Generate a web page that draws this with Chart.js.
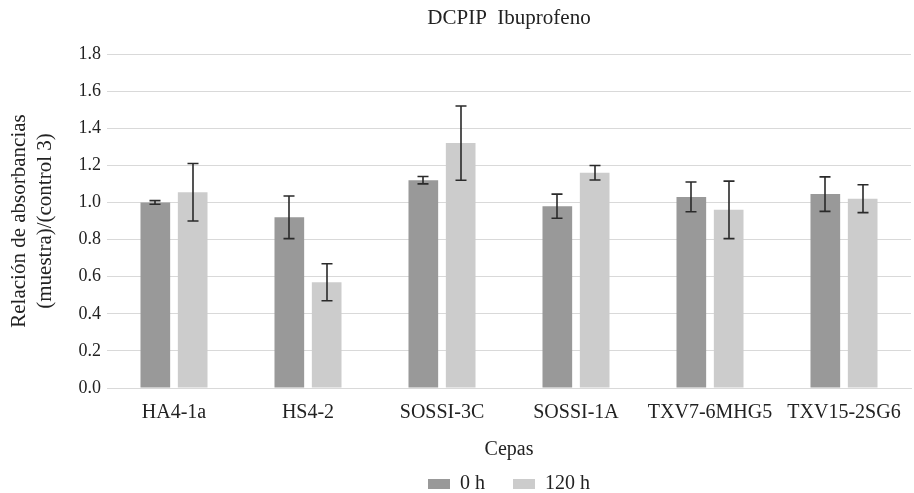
<!DOCTYPE html>
<html>
<head>
<meta charset="utf-8">
<script src="https://cdn.jsdelivr.net/npm/chart.js@4.4.1/dist/chart.umd.min.js"></script>
<style>
  html, body { margin: 0; padding: 0; background: #ffffff; }
  #wrap { width: 914px; height: 493px; position: relative; }
</style>
</head>
<body>
<div id="wrap"><canvas id="c" width="914" height="493"></canvas></div>
<script>
const categories = ['HA4-1a', 'HS4-2', 'SOSSI-3C', 'SOSSI-1A', 'TXV7-6MHG5', 'TXV15-2SG6'];
const seriesNames = ['0 h', '120 h'];
const values0h = [1.00, 0.92, 1.12, 0.98, 1.03, 1.045];
const errors0h = [0.01, 0.115, 0.02, 0.065, 0.08, 0.093];
const values120h = [1.055, 0.57, 1.32, 1.16, 0.96, 1.02];
const errors120h = [0.155, 0.10, 0.20, 0.039, 0.155, 0.075];
const yTicks = [0, 0.2, 0.4, 0.6, 0.8, 1.0, 1.2, 1.4, 1.6, 1.8];

const FONT = "'Liberation Serif', 'Times New Roman', serif";
const TEXT = '#222222';

const errorBarPlugin = {
  id: 'errorBars',
  afterDatasetsDraw(chart) {
    const ctx = chart.ctx;
    const y = chart.scales.y;
    ctx.save();
    ctx.strokeStyle = '#2a2a2a';
    ctx.lineWidth = 1.6;
    chart.data.datasets.forEach((ds, di) => {
      const meta = chart.getDatasetMeta(di);
      meta.data.forEach((bar, i) => {
        const v = ds.data[i], e = ds.errors[i];
        const x = Math.round(bar.x);
        const yt = y.getPixelForValue(v + e);
        const yb = y.getPixelForValue(v - e);
        const cap = 5.5;
        ctx.beginPath();
        ctx.moveTo(x, yt); ctx.lineTo(x, yb);
        ctx.moveTo(x - cap, yt); ctx.lineTo(x + cap, yt);
        ctx.moveTo(x - cap, yb); ctx.lineTo(x + cap, yb);
        ctx.stroke();
      });
    });
    ctx.restore();
  }
};

new Chart(document.getElementById('c'), {
  type: 'bar',
  data: {
    labels: categories,
    datasets: [
      { label: seriesNames[0], data: values0h, errors: errors0h, backgroundColor: '#999999', borderWidth: 0 },
      { label: seriesNames[1], data: values120h, errors: errors120h, backgroundColor: '#cccccc', borderWidth: 0 }
    ]
  },
  options: {
    responsive: false,
    animation: false,
    devicePixelRatio: 1,
    categoryPercentage: 0.5575,
    barPercentage: 0.794,
    layout: { padding: { left: 0, right: 3, top: 0, bottom: -11 } },
    plugins: {
      title: {
        display: true,
        text: 'DCPIP  Ibuprofeno',
        fullSize: false,
        color: TEXT,
        font: { family: FONT, size: 21, weight: 'normal', lineHeight: 1.2 },
        padding: { top: 5.4, bottom: 23.4 }
      },
      legend: {
        position: 'bottom',
        fullSize: false,
        labels: {
          color: TEXT,
          font: { family: FONT, size: 20 },
          boxWidth: 22,
          boxHeight: 10,
          padding: 28
        }
      },
      tooltip: { enabled: false }
    },
    scales: {
      x: {
        afterFit(scale) { scale.height = 58; },
        grid: { display: false, drawTicks: false },
        border: { display: true, color: '#d9d9d9', width: 1 },
        ticks: { color: TEXT, font: { family: FONT, size: 20 }, padding: 13, maxRotation: 0, autoSkip: false },
        title: { display: true, text: 'Cepas', color: TEXT, font: { family: FONT, size: 20, lineHeight: 1.2 }, padding: { top: 0, bottom: -16 } }
      },
      y: {
        min: 0,
        max: 1.8,
        afterBuildTicks(scale) { scale.ticks = yTicks.map(v => ({ value: v })); },
        afterFit(scale) { scale.width = 107; },
        grid: { color: '#d9d9d9', lineWidth: 1, drawTicks: false },
        border: { display: false },
        ticks: {
          color: TEXT,
          font: { family: FONT, size: 18 },
          padding: 6,
          callback: v => Number(v).toFixed(1)
        },
        title: {
          display: true,
          text: ['Relación de absorbancias', '(muestra)/(control 3)'],
          color: TEXT,
          font: { family: FONT, size: 21, lineHeight: 1.24 },
          padding: { top: 6, bottom: 0 }
        }
      }
    }
  },
  plugins: [errorBarPlugin]
});
</script>
</body>
</html>
